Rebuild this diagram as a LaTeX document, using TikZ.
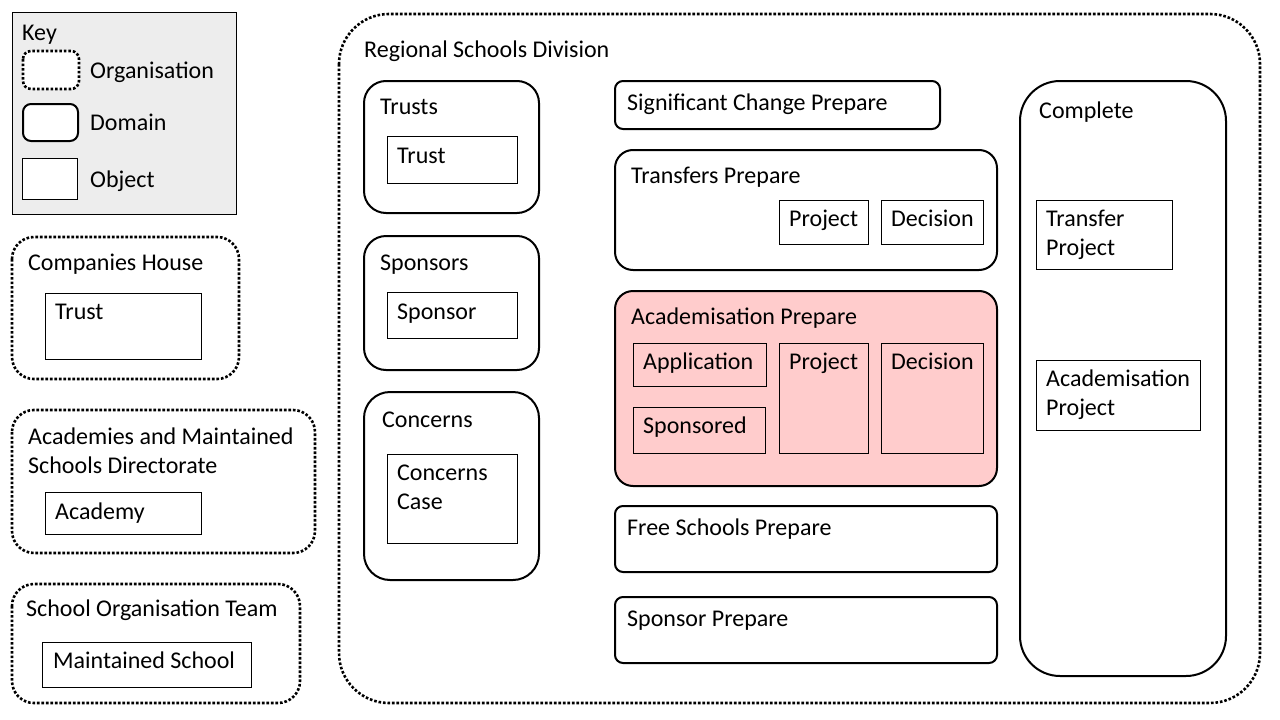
\documentclass[tikz,border=0pt]{standalone}
\usepackage{fontspec}
\setmainfont{Carlito}
\begin{document}
\begin{tikzpicture}[x=1pt,y=-1pt,
  org/.style={draw, line width=2.6pt, dash pattern=on 2.6pt off 1.9pt, rounded corners=#1},
  org/.default=22pt,
  dom/.style={draw, line width=2pt, rounded corners=#1},
  dom/.default=20pt,
  obj/.style={draw, line width=1pt},
  lbl/.style={anchor=base west, inner sep=0pt, font=\fontsize{24}{29}\selectfont, align=left},
]
\useasboundingbox (0,0) rectangle (1280,720);
% Key
\draw[line width=1pt, fill=black!7] (12,12) rectangle (236,214);
\node[lbl] (tkey) at (22,40) {Key};
\draw[org=8pt, fill=white] (23,51) rectangle (79,89);
\node[lbl] (torg) at (90,78) {Organisation};
\draw[dom=8pt, fill=white] (23,104) rectangle (78,141);
\node[lbl] (tdom) at (90,130) {Domain};
\draw[obj, fill=white] (22,158) rectangle (77,199);
\node[lbl] (tobj) at (90,187) {Object};
% Companies House
\draw[org] (12,237) rectangle (239,379);
\node[lbl] (tch) at (28,270) {Companies House};
\draw[obj] (45,293) rectangle (201,359);
\node[lbl] (tchtrust) at (55,319) {Trust};
% Academies
\draw[org] (12,410) rectangle (315,553);
\node[lbl] (tamsd) at (28,473) {Academies and Maintained\\Schools Directorate};
\draw[obj] (45,492) rectangle (201,534);
\node[lbl] (tacad) at (55,519) {Academy};
% School Organisation Team
\draw[org] (12,584) rectangle (300,703);
\node[lbl] (tsot) at (26,616) {School Organisation Team};
\draw[obj] (42,642) rectangle (251,687);
\node[lbl] (tms) at (53,668) {Maintained School};
% Regional Schools Division
\draw[org=50pt] (339,14) rectangle (1260,703);
\node[lbl] (trsd) at (364,57) {Regional Schools Division};
% Trusts
\draw[dom=22pt] (364,81) rectangle (539,213);
\node[lbl] (ttrusts) at (380,114) {Trusts};
\draw[obj] (387,136) rectangle (517,183);
\node[lbl] (ttrust) at (397,163) {Trust};
% Sponsors
\draw[dom=22pt] (364,236) rectangle (539,370);
\node[lbl] (tsponsors) at (380,270) {Sponsors};
\draw[obj] (387,292) rectangle (517,338);
\node[lbl] (tsponsor) at (397,319) {Sponsor};
% Concerns
\draw[dom=26pt] (364,392) rectangle (539,580);
\node[lbl] (tconcerns) at (382,427) {Concerns};
\draw[obj] (387,454) rectangle (517,543);
\node[lbl] (tcc) at (397,509) {Concerns\\Case};
% Significant Change Prepare
\draw[dom=8pt] (615,81) rectangle (940,129);
\node[lbl] (tscp) at (627,110) {Significant Change Prepare};
% Transfers Prepare
\draw[dom=18pt] (615,150) rectangle (997,270);
\node[lbl] (ttp) at (631,183) {Transfers Prepare};
\draw[obj] (779,200) rectangle (868,244);
\node[lbl] (ttpproj) at (789,226) {Project};
\draw[obj] (881,200) rectangle (983,244);
\node[lbl] (ttpdec) at (891,226) {Decision};
% Academisation Prepare
\draw[dom=18pt, fill={rgb,255:red,255;green,204;blue,204}] (615,291) rectangle (997,486);
\node[lbl] (tap) at (631,324) {Academisation Prepare};
\draw[obj] (633,343) rectangle (766,386);
\node[lbl] (tapp) at (643,369) {Application};
\draw[obj] (633,407) rectangle (765,453);
\node[lbl] (tspd) at (643,433) {Sponsored};
\draw[obj] (779,343) rectangle (868,453);
\node[lbl] (tapproj) at (789,369) {Project};
\draw[obj] (881,343) rectangle (983,453);
\node[lbl] (tapdec) at (891,369) {Decision};
% Free Schools Prepare
\draw[dom=8pt] (615,506) rectangle (997,572);
\node[lbl] (tfsp) at (627,535) {Free Schools Prepare};
% Sponsor Prepare
\draw[dom=8pt] (615,597) rectangle (997,663);
\node[lbl] (tsp) at (627,626) {Sponsor Prepare};
% Complete
\draw[dom=40pt] (1020,81) rectangle (1226,676);
\node[lbl] (tcomplete) at (1039,118) {Complete};
\draw[obj] (1036,200) rectangle (1172,269);
\node[lbl] (ttrp) at (1046,255) {Transfer\\Project};
\draw[obj] (1036,360) rectangle (1200,430);
\node[lbl] (tacp) at (1046,415) {Academisation\\Project};
\end{tikzpicture}
\end{document}
